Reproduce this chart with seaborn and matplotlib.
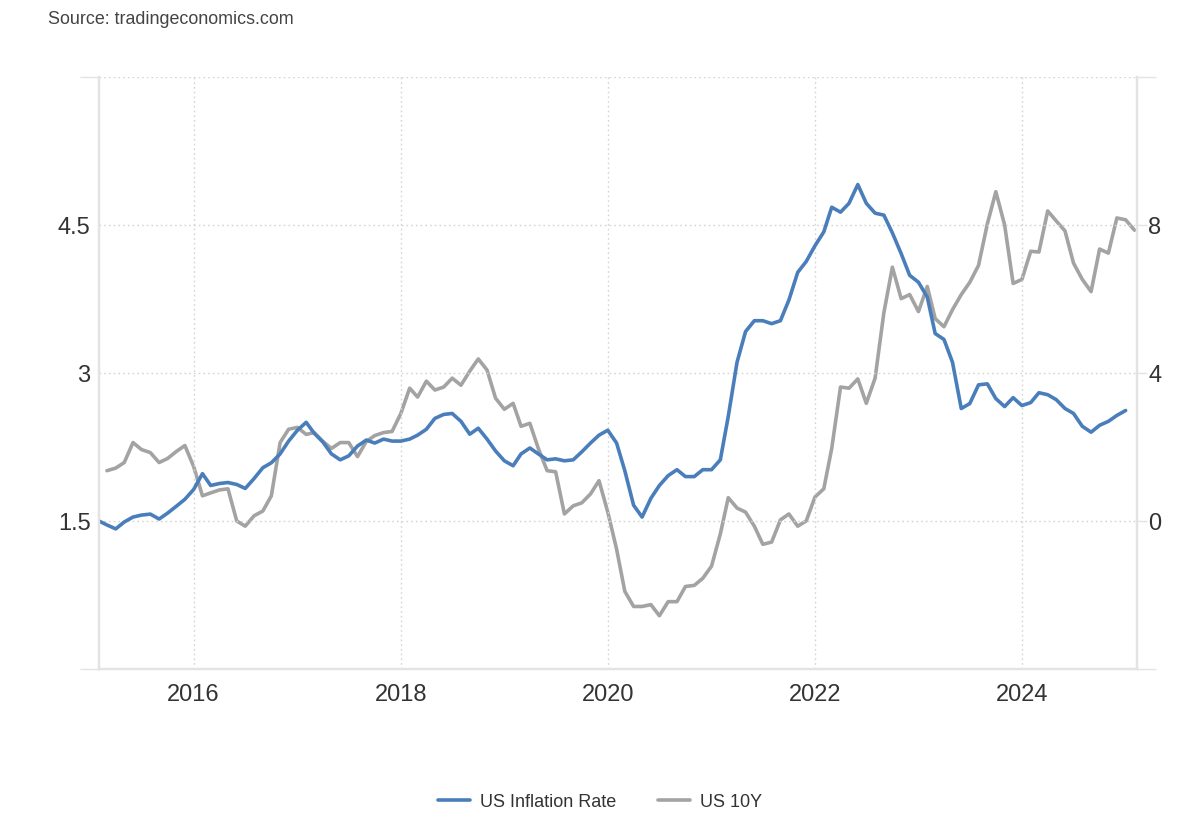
import pandas as pd
import matplotlib
matplotlib.use('Agg')
import matplotlib.pyplot as plt
import matplotlib.dates as mdates
import seaborn as sns

# US Inflation Rate (left axis), monthly Feb 2015 - Jan 2025
inflacion = [
    1.50, 1.46, 1.42, 1.49, 1.54, 1.56, 1.57, 1.52, 1.58, 1.65, 1.72, 1.82,
    1.98, 1.86, 1.88, 1.89, 1.87, 1.83, 1.93, 2.04, 2.09, 2.18, 2.31, 2.42,
    2.50, 2.39, 2.30, 2.18, 2.12, 2.16, 2.26, 2.32, 2.29, 2.33, 2.31, 2.31,
    2.33, 2.37, 2.43, 2.54, 2.58, 2.59, 2.51, 2.38, 2.44, 2.33, 2.21, 2.11,
    2.06, 2.18, 2.24, 2.18, 2.12, 2.13, 2.11, 2.12, 2.20, 2.29, 2.37, 2.42,
    2.29, 2.01, 1.66, 1.54, 1.73, 1.86, 1.96, 2.02, 1.95, 1.95, 2.02, 2.02,
    2.12, 2.56, 3.11, 3.42, 3.53, 3.53, 3.50, 3.53, 3.74, 4.02, 4.13, 4.29,
    4.43, 4.68, 4.63, 4.72, 4.91, 4.72, 4.62, 4.60, 4.42, 4.21, 3.99, 3.92,
    3.77, 3.40, 3.34, 3.11, 2.64, 2.69, 2.88, 2.89, 2.74, 2.66, 2.75, 2.67,
    2.70, 2.80, 2.78, 2.73, 2.64, 2.59, 2.46, 2.40, 2.47, 2.51, 2.57, 2.62,
]

# US 10Y (right axis), monthly Mar 2015 - Feb 2025
bono_10y = [
    1.36, 1.43, 1.58, 2.12, 1.93, 1.85, 1.58, 1.69, 1.88, 2.04, 1.47,
    0.68, 0.76, 0.84, 0.87, 0.00, -0.14, 0.14, 0.27, 0.68, 2.12, 2.48, 2.53,
    2.34, 2.39, 2.15, 1.96, 2.12, 2.12, 1.74, 2.15, 2.31, 2.39, 2.42, 2.91,
    3.59, 3.35, 3.78, 3.54, 3.62, 3.86, 3.67, 4.05, 4.38, 4.08, 3.32, 3.02,
    3.18, 2.56, 2.64, 1.96, 1.36, 1.33, 0.19, 0.41, 0.49, 0.73, 1.09, 0.24,
    -0.76, -1.90, -2.31, -2.31, -2.26, -2.56, -2.18, -2.18, -1.77, -1.74, -1.55, -1.22,
    -0.35, 0.63, 0.35, 0.24, -0.14, -0.63, -0.57, 0.03, 0.19, -0.14, 0.00, 0.65,
    0.87, 1.96, 3.62, 3.59, 3.84, 3.18, 3.86, 5.63, 6.86, 6.01, 6.12, 5.66,
    6.34, 5.47, 5.25, 5.71, 6.12, 6.45, 6.91, 8.03, 8.90, 8.00, 6.42, 6.53,
    7.29, 7.27, 8.38, 8.11, 7.84, 6.97, 6.53, 6.20, 7.35, 7.24, 8.19, 8.14,
    7.86,
]

ticks_izq = [1.5, 3, 4.5]
ticks_der = [0, 4, 8]
anios = ['2016', '2018', '2020', '2022', '2024']

df_inf = pd.DataFrame({'fecha': pd.date_range('2015-02-01', periods=len(inflacion), freq='MS'),
                       'valor': inflacion})
df_10y = pd.DataFrame({'fecha': pd.date_range('2015-03-01', periods=len(bono_10y), freq='MS'),
                       'valor': bono_10y})

sns.set_theme(style="white")
plt.rcParams['font.family'] = ['Liberation Sans', 'DejaVu Sans']

azul = '#4a7ebb'
gris = '#a3a3a3'
gris_linea = '#e3e3e3'
gris_grid = '#d4d4d4'
texto = '#333333'

fig = plt.figure(figsize=(12, 8.2), dpi=100)
ax = fig.add_axes([99 / 1200, 1 - 670 / 820, (1137 - 99) / 1200, (670 - 78) / 820])
ax2 = ax.twinx()

sns.lineplot(data=df_inf, x='fecha', y='valor', ax=ax, color=azul, linewidth=2.6,
             label='US Inflation Rate', legend=False, solid_joinstyle='round')
sns.lineplot(data=df_10y, x='fecha', y='valor', ax=ax2, color=gris, linewidth=2.6,
             label='US 10Y', legend=False, solid_joinstyle='round')
ax.set_zorder(ax2.get_zorder() + 1)
ax.patch.set_visible(False)

ax.set_xlim(pd.Timestamp('2015-02-01'), pd.Timestamp('2025-02-10'))
ax.set_ylim(0, 6)
ax2.set_ylim(-4, 12)

ax.set_xticks([pd.Timestamp(f'{a}-01-01') for a in anios])
ax.xaxis.set_major_formatter(mdates.DateFormatter('%Y'))
ax.set_yticks(ticks_izq, labels=[f'{t:g}' for t in ticks_izq])
ax.set_yticks([0, 6], minor=True)
ax2.set_yticks(ticks_der, labels=[str(t) for t in ticks_der])
ax2.set_yticks([-4, 12], minor=True)

ax.tick_params(axis='x', length=0, pad=10, labelsize=17, labelcolor=texto)
ax.tick_params(axis='y', which='major', length=0, pad=6, labelsize=17, labelcolor=texto)
ax.tick_params(axis='y', which='minor', length=14, width=1, color=gris_linea)
ax2.tick_params(axis='y', which='major', length=7, width=1, color=gris_linea, pad=1,
                labelsize=17, labelcolor=texto)
ax2.tick_params(axis='y', which='minor', length=14, width=1, color=gris_linea)

ax.grid(axis='y', which='both', linestyle=(0, (1.2, 2.2)), color=gris_grid, linewidth=1)
ax.grid(axis='x', which='major', linestyle=(0, (1.2, 2.2)), color=gris_grid, linewidth=1)
ax2.grid(False)

for a in (ax, ax2):
    a.set_xlabel('')
    a.set_ylabel('')
    a.spines['top'].set_visible(False)
    for s in ('left', 'right', 'bottom'):
        a.spines[s].set_color(gris_linea)
        a.spines[s].set_linewidth(1.6)

fig.text(48 / 1200, 1 - 19 / 820, 'Source: tradingeconomics.com', fontsize=12.9,
         color='#444444', va='center', ha='left')

handles = [ax.get_lines()[0], ax2.get_lines()[0]]
fig.legend(handles, ['US Inflation Rate', 'US 10Y'], loc='center',
           bbox_to_anchor=(0.5, 1 - 803 / 820), ncol=2, frameon=False,
           fontsize=13, handlelength=1.8, columnspacing=2.3, handletextpad=0.55,
           labelcolor=texto)

plt.savefig('out.png', dpi=100)
plt.close()
